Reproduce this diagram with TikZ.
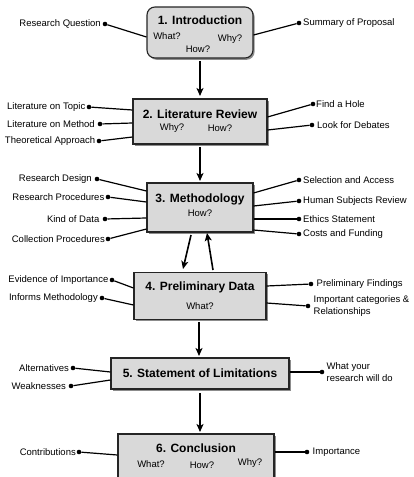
\documentclass[tikz,border=0pt]{standalone}
\usepackage{fontspec}
\setmainfont{Liberation Sans}
\usetikzlibrary{shadows,arrows.meta,calc}
\definecolor{boxfill}{HTML}{D9D9D9}
\definecolor{boxline}{HTML}{252525}
\tikzset{
  box/.style={draw=boxline, line width=1.1pt, fill=boxfill, inner sep=0pt,
    drop shadow={shadow xshift=1.6pt, shadow yshift=-1.8pt, opacity=0.45, fill=black}},
  ttl/.style={font=\fontsize{12}{14}\selectfont\bfseries, inner sep=0pt},
  sm/.style={font=\fontsize{9.5}{11}\selectfont, inner sep=0pt},
  dot/.style={circle, fill=black, inner sep=0pt, minimum size=4.6pt},
  lab/.style={font=\fontsize{9.5}{11.2}\selectfont, inner sep=0pt, align=left},
  conn/.style={line width=1.2pt, draw=black},
  arr/.style={line width=1.6pt, -{Stealth[length=8pt,width=7pt,inset=2pt]}},
}
\begin{document}
\begin{tikzpicture}[x=1pt,y=-1pt]
\useasboundingbox (0,0) rectangle (413,477);
\clip (0,0) rectangle (413,477);
\fill[white] (0,0) rectangle (413,477);

% ---------- boxes ----------
\node[box, rounded corners=8pt, minimum width=106pt, minimum height=51pt] (b1) at (200,32.5) {};
\node[box, minimum width=134pt, minimum height=45pt] (b2) at (200,121.5) {};
\node[box, minimum width=106pt, minimum height=49pt] (b3) at (200,207.5) {};
\node[box, minimum width=132pt, minimum height=47pt] (b4) at (200,296) {};
\node[box, minimum width=178pt, minimum height=31pt] (b5) at (200,373.5) {};
\node[box, minimum width=156pt, minimum height=60pt] (b6) at (196,464) {};

% ---------- box texts ----------
\node[ttl] (t1) at (200,20) {1. Introduction};
\node[sm] (t1a) at (167,36) {What?};
\node[sm] (t1b) at (230,39) {Why?};
\node[sm] (t1c) at (198,49) {How?};

\node[ttl] (t2) at (200,114) {2. Literature Review};
\node[sm] (t2a) at (172,128) {Why?};
\node[sm] (t2b) at (220,128) {How?};

\node[ttl] (t3) at (200,199) {3. Methodology};
\node[sm] (t3a) at (200,213) {How?};

\node[ttl] (t4) at (200,287) {4. Preliminary Data};
\node[sm] (t4a) at (200,306) {What?};

\node[ttl] (t5) at (200,373) {5. Statement of Limitations};

\node[ttl] (t6) at (196,448) {6. Conclusion};
\node[sm] (t6a) at (151,464) {What?};
\node[sm] (t6b) at (202,465) {How?};
\node[sm] (t6c) at (250,463) {Why?};

% ---------- arrows ----------
\coordinate (a1s) at (200,61);  \coordinate (a1e) at (200,96);
\coordinate (a2s) at (200,147); \coordinate (a2e) at (200,181);
\coordinate (a3s) at (191,235); \coordinate (a3e) at (183,269);
\coordinate (a4s) at (213,270); \coordinate (a4e) at (207,233);
\coordinate (a5s) at (199,322); \coordinate (a5e) at (199,356);
\coordinate (a6s) at (200,393); \coordinate (a6e) at (200,432);
\draw[arr] (a1s) -- (a1e);
\draw[arr] (a2s) -- (a2e);
\draw[arr] (a3s) -- (a3e);
\draw[arr] (a4s) -- (a4e);
\draw[arr] (a5s) -- (a5e);
\draw[arr] (a6s) -- (a6e);

% ---------- 1. Introduction ----------
\node[dot] (d11) at (105,24) {};
\node[lab, anchor=east] (l11) at ($(d11.west)+(-1.5,0)$) {Research Question};
\draw[conn] (b1.west |- 0,37) -- (d11);
\node[dot] (d12) at (299,23) {};
\node[lab, anchor=west] (l12) at ($(d12.east)+(1.5,0)$) {Summary of Proposal};
\draw[conn] (b1.east |- 0,35) -- (d12);

% ---------- 2. Literature Review ----------
\node[dot] (d21) at (89,107) {};
\node[lab, anchor=east] (l21) at ($(d21.west)+(-1,0)$) {Literature on Topic};
\draw[conn] (b2.west |- 0,110) -- (d21);
\node[dot] (d22) at (100,124) {};
\node[lab, anchor=east] (l22) at ($(d22.west)+(-2.5,0)$) {Literature on Method};
\draw[conn] (b2.west |- 0,123) -- (d22);
\node[dot] (d23) at (99,141) {};
\node[lab, anchor=east] (l23) at ($(d23.west)+(-1,0)$) {Theoretical Approach};
\draw[conn] (b2.west |- 0,137) -- (d23);
\node[dot] (d24) at (313,104) {};
\node[lab, anchor=west] (l24) at ($(d24.east)+(0.5,0)$) {Find a Hole};
\draw[conn] (b2.east |- 0,117) -- (d24);
\node[dot] (d25) at (312,125) {};
\node[lab, anchor=west] (l25) at ($(d25.east)+(2.5,0)$) {Look for Debates};
\draw[conn] (b2.east |- 0,130) -- (d25);

% ---------- 3. Methodology ----------
\node[dot] (d31) at (97,179) {};
\node[lab, anchor=east] (l31) at ($(d31.west)+(-2.5,0)$) {Research Design};
\draw[conn] (b3.west |- 0,191) -- (d31);
\node[dot] (d32) at (108,197) {};
\node[lab, anchor=east] (l32) at ($(d32.west)+(-1,0)$) {Research Procedures};
\draw[conn] (b3.west |- 0,202) -- (d32);
\node[dot] (d33) at (105,219) {};
\node[lab, anchor=east] (l33) at ($(d33.west)+(-3,0)$) {Kind of Data};
\draw[conn] (b3.west |- 0,218) -- (d33);
\node[dot] (d34) at (108,239) {};
\node[lab, anchor=east] (l34) at ($(d34.west)+(-0.5,0)$) {Collection Procedures};
\draw[conn] (b3.west |- 0,229) -- (d34);
\node[dot] (d35) at (299,180) {};
\node[lab, anchor=west] (l35) at ($(d35.east)+(1.5,0)$) {Selection and Access};
\draw[conn] (b3.east |- 0,193) -- (d35);
\node[dot] (d36) at (299,201) {};
\node[lab, anchor=west] (l36) at ($(d36.east)+(1.5,0)$) {Human Subjects Review};
\draw[conn] (b3.east |- 0,206) -- (d36);
\node[dot] (d37) at (299,219) {};
\node[lab, anchor=west] (l37) at ($(d37.east)+(1.5,0)$) {Ethics Statement};
\draw[conn] (b3.east |- 0,219) -- (d37);
\node[dot] (d38) at (299,234) {};
\node[lab, anchor=west] (l38) at ($(d38.east)+(1.5,0)$) {Costs and Funding};
\draw[conn] (b3.east |- 0,230) -- (d38);

% ---------- 4. Preliminary Data ----------
\node[dot] (d41) at (112,280) {};
\node[lab, anchor=east] (l41) at ($(d41.west)+(-1,0)$) {Evidence of Importance};
\draw[conn] (b4.west |- 0,288) -- (d41);
\node[dot] (d42) at (102,298) {};
\node[lab, anchor=east] (l42) at ($(d42.west)+(-1.5,0)$) {Informs Methodology};
\draw[conn] (b4.west |- 0,305) -- (d42);
\node[dot] (d43) at (311,284) {};
\node[lab, anchor=west] (l43) at ($(d43.east)+(3,0)$) {Preliminary Findings};
\draw[conn] (b4.east |- 0,286) -- (d43);
\node[dot] (d44) at (308,306) {};
\node[lab, anchor=west] (l44) at ($(d44.east)+(3,0)$) {Important categories \&\\Relationships};
\draw[conn] (b4.east |- 0,303) -- (d44);

% ---------- 5. Statement of Limitations ----------
\node[dot] (d51) at (73,368) {};
\node[lab, anchor=east] (l51) at ($(d51.west)+(-1.5,0)$) {Alternatives};
\draw[conn] (b5.west |- 0,372) -- (d51);
\node[dot] (d52) at (71,386) {};
\node[lab, anchor=east] (l52) at ($(d52.west)+(-2.5,0)$) {Weaknesses};
\draw[conn] (b5.west |- 0,380) -- (d52);
\node[dot] (d53) at (322,372) {};
\node[lab, anchor=west] (l53) at ($(d53.east)+(2,0)$) {What your\\research will do};
\draw[conn] (b5.east |- 0,372) -- (d53);

% ---------- 6. Conclusion ----------
\node[dot] (d61) at (79,452) {};
\node[lab, anchor=east] (l61) at ($(d61.west)+(-0.5,0)$) {Contributions};
\draw[conn] (b6.west |- 0,455) -- (d61);
\node[dot] (d62) at (307,452) {};
\node[lab, anchor=west] (l62) at ($(d62.east)+(3,0)$) {Importance};
\draw[conn] (b6.east |- 0,452) -- (d62);
\end{tikzpicture}
\end{document}
